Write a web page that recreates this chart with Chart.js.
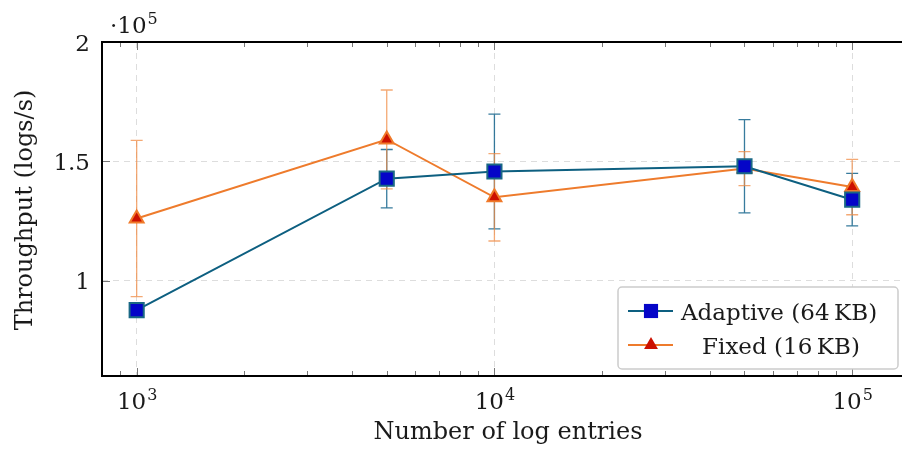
<!DOCTYPE html>
<html>
<head>
<meta charset="utf-8">
<script src="https://cdn.jsdelivr.net/npm/chart.js@4"></script>
<style>
    html, body { margin: 0; padding: 0; background: #fff; overflow: hidden; }
    #wrap { width: 902px; height: 451px; position: relative; }
    #chart { display: block; }
</style>
</head>
<body>
<div id="wrap"><canvas id="chart"></canvas></div>
<script>
const entries = [1000, 5000, 10000, 50000, 100000];
const adaptive = [87800, 142800, 145800, 148000, 134000];
const adaptiveErr = [1500, 12200, 24000, 19500, 11000];
const fixed = [126100, 159200, 135000, 147000, 139300];
const fixedErr = [32700, 20700, 18300, 7100, 11600];
const xTicks = [1000, 10000, 100000];
const yTicks = [100000, 150000, 200000];
const xTitle = "Number of log entries";
const yTitle = "Throughput (logs/s)";
const legendLabels = ["Adaptive (64\u2009KB)", "Fixed (16\u2009KB)"];

const FONT = "'DejaVu Serif', serif";
const TEXT = "#1a1a1a";
const errs = [adaptiveErr, fixedErr];
const errColors = ["rgba(20,100,140,0.85)", "rgba(240,140,70,0.75)"];

// "10" with a raised exponent, centred on cx
function drawPow(ctx, cx, base, exp, size, by, align) {
    ctx.font = size + "px " + FONT;
    const w1 = ctx.measureText(base).width;
    ctx.font = Math.round(size * 0.68) + "px " + FONT;
    const w2 = ctx.measureText(exp).width;
    const x = align === "left" ? cx : cx - (w1 + w2) / 2;
    ctx.textAlign = "left";
    ctx.textBaseline = "alphabetic";
    ctx.font = size + "px " + FONT;
    ctx.fillText(base, x, by);
    ctx.font = Math.round(size * 0.68) + "px " + FONT;
    ctx.fillText(exp, x + w1 + 1, by - size * 0.38);
}

const errorBars = {
    id: "errorBars",
    beforeDatasetsDraw(chart) {
        const ctx = chart.ctx;
        const y = chart.scales.y;
        chart.data.datasets.forEach((ds, i) => {
            const meta = chart.getDatasetMeta(i);
            ctx.save();
            ctx.strokeStyle = errColors[i];
            ctx.lineWidth = 1.3;
            meta.data.forEach((pt, j) => {
                const v = ds.data[j].y;
                const top = y.getPixelForValue(v + errs[i][j]);
                const bot = y.getPixelForValue(v - errs[i][j]);
                ctx.beginPath();
                ctx.moveTo(pt.x, top); ctx.lineTo(pt.x, bot);
                ctx.moveTo(pt.x - 6, top); ctx.lineTo(pt.x + 6, top);
                ctx.moveTo(pt.x - 6, bot); ctx.lineTo(pt.x + 6, bot);
                ctx.stroke();
            });
            ctx.restore();
        });
    },
};

const frame = {
    id: "frame",
    afterDraw(chart) {
        const ctx = chart.ctx;
        const a = chart.chartArea;
        const x = chart.scales.x;
        const y = chart.scales.y;
        ctx.save();
        // ticks inside the frame
        ctx.strokeStyle = "#777";
        ctx.lineWidth = 1;
        const minors = [];
        [100, 1000, 10000, 100000].forEach((d) => {
            for (let k = 2; k <= 9; k++) minors.push(d * k);
        });
        minors.forEach((v) => {
            if (v < x.min || v > x.max) return;
            const px = Math.round(x.getPixelForValue(v)) + 0.5;
            ctx.beginPath();
            ctx.moveTo(px, a.bottom); ctx.lineTo(px, a.bottom - 5);
            ctx.moveTo(px, a.top); ctx.lineTo(px, a.top + 5);
            ctx.stroke();
        });
        xTicks.forEach((v) => {
            const px = Math.round(x.getPixelForValue(v)) + 0.5;
            ctx.beginPath();
            ctx.moveTo(px, a.bottom); ctx.lineTo(px, a.bottom - 8);
            ctx.moveTo(px, a.top); ctx.lineTo(px, a.top + 8);
            ctx.stroke();
        });
        yTicks.forEach((v) => {
            const py = Math.round(y.getPixelForValue(v)) + 0.5;
            ctx.beginPath();
            ctx.moveTo(a.left, py); ctx.lineTo(a.left + 8, py);
            ctx.stroke();
        });
        // frame (right side falls outside the picture)
        ctx.strokeStyle = "#000";
        ctx.lineWidth = 2;
        ctx.beginPath();
        ctx.moveTo(a.right + 2, a.top);
        ctx.lineTo(a.left, a.top);
        ctx.lineTo(a.left, a.bottom);
        ctx.lineTo(a.right + 2, a.bottom);
        ctx.stroke();

        ctx.fillStyle = TEXT;
        xTicks.forEach((v) => {
            drawPow(ctx, x.getPixelForValue(v), "10", String(Math.round(Math.log10(v))), 23, 409);
        });
        ctx.font = "23px " + FONT;
        ctx.textAlign = "right";
        ctx.textBaseline = "alphabetic";
        yTicks.forEach((v) => {
            ctx.fillText(String(v / 100000), 90, y.getPixelForValue(v) + 8.5);
        });
        // exponent label
        ctx.font = "23px " + FONT;
        ctx.textAlign = "left";
        ctx.fillText("\u00b7", 110, 33);
        const dw = ctx.measureText("\u00b7").width;
        drawPow(ctx, 110 + dw, "10", "5", 23, 33, "left");
        // axis titles
        ctx.font = "24px " + FONT;
        ctx.textAlign = "center";
        ctx.textBaseline = "alphabetic";
        ctx.fillText(xTitle, 508, 439);
        ctx.save();
        ctx.translate(32, 210);
        ctx.rotate(-Math.PI / 2);
        ctx.fillText(yTitle, 0, 0);
        ctx.restore();

        // legend
        const lx = 618, ly = 287, lw = 280, lh = 82;
        ctx.fillStyle = "#fff";
        ctx.strokeStyle = "#ccc";
        ctx.lineWidth = 1.5;
        ctx.beginPath();
        ctx.roundRect(lx, ly, lw, lh, 4);
        ctx.fill();
        ctx.stroke();
        const rowY = [311, 345];
        chart.data.datasets.forEach((ds, i) => {
            const ry = rowY[i];
            ctx.strokeStyle = ds.borderColor;
            ctx.lineWidth = 2;
            ctx.beginPath();
            ctx.moveTo(628, ry); ctx.lineTo(673, ry);
            ctx.stroke();
            ctx.fillStyle = ds.pointBackgroundColor;
            ctx.strokeStyle = ds.pointBorderColor;
            ctx.lineWidth = ds.pointBorderWidth;
            Chart.helpers.drawPoint(ctx, { pointStyle: ds.pointStyle, radius: ds.pointRadius, rotation: 0 }, 651, ry);
            ctx.fillStyle = TEXT;
            ctx.font = "23px " + FONT;
            ctx.textBaseline = "alphabetic";
            if (i === 1) {
                ctx.textAlign = "center";
                ctx.fillText(legendLabels[i], 781, ry + 8.5);
            } else {
                ctx.textAlign = "left";
                ctx.fillText(legendLabels[i], 681, ry + 8.5);
            }
        });
        ctx.restore();
    },
};

const ctx = document.getElementById("chart").getContext("2d");
new Chart(ctx, {
    type: "line",
    data: {
        datasets: [
            {
                label: legendLabels[0],
                data: entries.map((e, i) => ({ x: e, y: adaptive[i] })),
                borderColor: "#0d5f80",
                borderWidth: 2,
                pointStyle: "rect",
                pointRadius: 10,
                pointBorderWidth: 2,
                pointBackgroundColor: "#0505c8",
                pointBorderColor: "#1a6885",
                tension: 0,
            },
            {
                label: legendLabels[1],
                data: entries.map((e, i) => ({ x: e, y: fixed[i] })),
                borderColor: "#ee7b2c",
                borderWidth: 2,
                pointStyle: "triangle",
                pointRadius: 8,
                pointBorderWidth: 2,
                pointBackgroundColor: "#cc1000",
                pointBorderColor: "#f07a2a",
                tension: 0,
            },
        ],
    },
    options: {
        responsive: true,
        maintainAspectRatio: false,
        animation: false,
        devicePixelRatio: 1,
        layout: { autoPadding: false, padding: { top: 42, right: 0, left: 0, bottom: 0 } },
        plugins: { legend: { display: false }, tooltip: { enabled: false } },
        scales: {
            x: {
                type: "logarithmic",
                min: 800,
                max: 137800,
                afterBuildTicks: (s) => { s.ticks = xTicks.map((v) => ({ value: v })); },
                afterFit: (s) => { s.height = 75; },
                grid: { color: "#ddd", lineWidth: 1, drawTicks: false },
                border: { display: false, dash: [6, 5] },
                ticks: { display: false },
            },
            y: {
                min: 60200,
                max: 200000,
                afterBuildTicks: (s) => { s.ticks = yTicks.map((v) => ({ value: v })); },
                afterFit: (s) => { s.width = 102; },
                grid: { color: "#ddd", lineWidth: 1, drawTicks: false },
                border: { display: false, dash: [6, 5] },
                ticks: { display: false },
            },
        },
    },
    plugins: [errorBars, frame],
});
</script>
</body>
</html>
